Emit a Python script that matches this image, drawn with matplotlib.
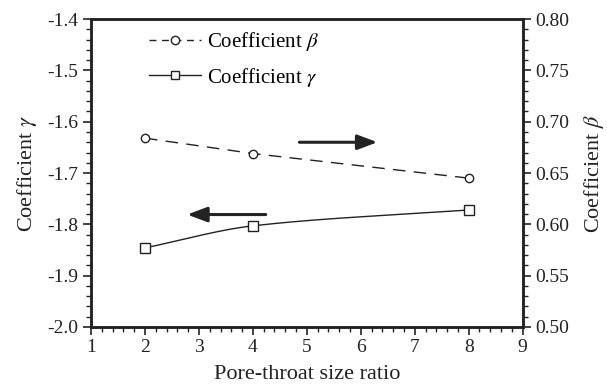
import numpy as np
import matplotlib
matplotlib.use('Agg')
import matplotlib.pyplot as plt
from matplotlib.ticker import MultipleLocator
from matplotlib.lines import Line2D

plt.rcParams['font.family'] = ['Liberation Serif', 'DejaVu Serif']
plt.rcParams['mathtext.fontset'] = 'stix'

# datos
ratio = [2, 4, 8]
beta = [0.684, 0.669, 0.645]
gamma = [-1.846, -1.803, -1.772]


def pchip(x, y, xs):
    # interpolacion monotona para la curva suave de gamma
    x = np.asarray(x, float)
    y = np.asarray(y, float)
    h = np.diff(x)
    d = np.diff(y) / h
    m = np.zeros_like(y)
    for i in range(1, len(x) - 1):
        if d[i - 1] * d[i] > 0:
            w1 = 2 * h[i] + h[i - 1]
            w2 = h[i] + 2 * h[i - 1]
            m[i] = (w1 + w2) / (w1 / d[i - 1] + w2 / d[i])
    m[0] = d[0]
    m[-1] = d[-1]
    ys = np.empty_like(xs)
    for j, xv in enumerate(xs):
        i = min(np.searchsorted(x, xv) - 1, len(x) - 2)
        i = max(i, 0)
        t = (xv - x[i]) / h[i]
        h00 = 2 * t**3 - 3 * t**2 + 1
        h10 = t**3 - 2 * t**2 + t
        h01 = -2 * t**3 + 3 * t**2
        h11 = t**3 - t**2
        ys[j] = h00 * y[i] + h10 * h[i] * m[i] + h01 * y[i + 1] + h11 * h[i] * m[i + 1]
    return ys


fig = plt.figure(figsize=(6.07, 3.91), dpi=100)
ax = fig.add_axes([0.150, 0.164, 0.711, 0.787])
ax2 = ax.twinx()

xs = np.linspace(ratio[0], ratio[-1], 200)
ax.plot(xs, pchip(ratio, gamma, xs), color='#222222', lw=1.0)
ax.plot(ratio, gamma, ls='none', marker='s', ms=7, mfc='white', mec='#222222', mew=1.0)

ax2.plot(ratio, beta, color='#222222', lw=1.0, ls=(0, (9, 6)),
         marker='o', ms=6, mfc='white', mec='#222222', mew=1.0)

# leyenda manual
h1 = Line2D([], [], color='#222222', lw=1.0, ls=(0, (5, 4)), marker='o', ms=6,
            mfc='white', mec='#222222')
h2 = Line2D([], [], color='#222222', lw=1.0, marker='s', ms=6,
            mfc='white', mec='#222222')
ax.legend([h1, h2], [r'Coefficient $\beta$', r'Coefficient $\gamma$'],
          loc='upper left', bbox_to_anchor=(0.09, 1.025), frameon=False,
          fontsize=15, handlelength=2.5, handletextpad=0.3, labelspacing=0.6)

# flechas
ax.annotate('', xy=(6.36, -1.640), xytext=(4.81, -1.640),
            arrowprops=dict(arrowstyle='-|>,head_length=1.2,head_width=0.45',
                            color='#222222', lw=2.2))
ax.annotate('', xy=(2.73, -1.781), xytext=(4.29, -1.781),
            arrowprops=dict(arrowstyle='-|>,head_length=1.2,head_width=0.45',
                            color='#222222', lw=2.2))

ax.set_xlim(1, 9)
ax.set_ylim(-2.0, -1.4)
ax2.set_ylim(0.50, 0.80)

ax.xaxis.set_major_locator(MultipleLocator(1))
ax.xaxis.set_minor_locator(MultipleLocator(0.2))
ax.yaxis.set_major_locator(MultipleLocator(0.1))
ax.yaxis.set_minor_locator(MultipleLocator(0.02))
ax2.yaxis.set_major_locator(MultipleLocator(0.05))
ax2.yaxis.set_minor_locator(MultipleLocator(0.01))
ax.yaxis.set_major_formatter(plt.FormatStrFormatter('%.1f'))
ax2.yaxis.set_major_formatter(plt.FormatStrFormatter('%.2f'))

for a in (ax, ax2):
    a.tick_params(which='major', direction='out', length=6, width=1.2, labelsize=14,
                  color='#222222', labelcolor='#222222', pad=3)
    a.tick_params(which='minor', direction='out', length=3.5, width=1.0, color='#222222')
    for s in a.spines.values():
        s.set_linewidth(1.8)
        s.set_color('#222222')
ax.tick_params(top=False, right=False, which='both')
ax2.tick_params(top=False, which='both')

ax.set_xlabel('Pore-throat size ratio', fontsize=16, color='#222222', labelpad=6)
ax.set_ylabel(r'Coefficient $\gamma$', fontsize=16, color='#222222', labelpad=6)
ax2.set_ylabel(r'Coefficient $\beta$', fontsize=16, color='#222222', labelpad=9)

fig.savefig('out.png', dpi=100)
